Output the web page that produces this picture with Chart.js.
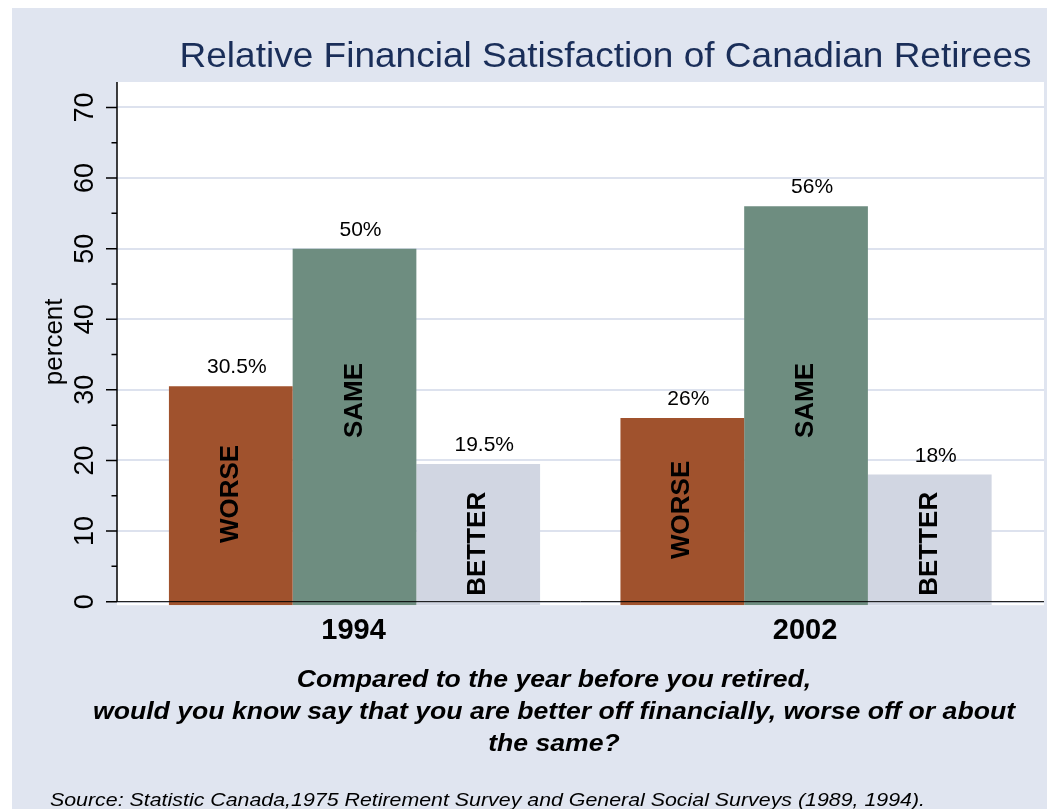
<!DOCTYPE html>
<html>
<head>
<meta charset="utf-8">
<script src="https://cdn.jsdelivr.net/npm/chart.js@4.4.1/dist/chart.umd.min.js"></script>
<style>
    html, body { margin: 0; padding: 0; background: #fff; }
    #wrap { width: 1047px; height: 809px; }
</style>
</head>
<body>
<div id="wrap"><canvas id="chart" width="1047" height="809"></canvas></div>
<script>
// ------------------------------------------------------------------ data
const years = ['1994', '2002'];
const answers = ['WORSE', 'SAME', 'BETTER'];
const worse = [30.5, 26];
const same = [50, 56];
const better = [19.5, 18];
const yTicks = [0, 10, 20, 30, 40, 50, 60, 70];
const yMinorTicks = [5, 15, 25, 35, 45, 55, 65];

// height (percent units) where each answer's name sits inside its bar; null = half the bar
const nameAt = [null, 28.5, 8.2];

const titleText = 'Relative Financial Satisfaction of Canadian Retirees';
const noteLines = [
    'Compared to the year before you retired,',
    'would you know say that you are better off financially, worse off or about',
    'the same?'
];
const sourceText = 'Source: Statistic Canada,1975 Retirement Survey and General Social Surveys (1989, 1994).';

// ---------------------------------------------------------------- styles
const FONT = '"Liberation Sans", Arial, Helvetica, sans-serif';
const BG = '#e0e5f0';
const GRID = '#dde2ee';
const BAR_COLORS = ['#a0522d', '#6e8d80', '#d1d6e2'];

const toPoints = vals => vals.map((v, i) => ({ x: i, y: v }));

// page + plot backgrounds
const panel = {
    id: 'panel',
    beforeDraw(chart) {
        const { ctx, chartArea: a, width, height } = chart;
        ctx.save();
        ctx.fillStyle = '#ffffff';
        ctx.fillRect(0, 0, width, height);
        ctx.fillStyle = BG;
        ctx.fillRect(12, 8, width - 12, height - 8);
        ctx.fillStyle = '#ffffff';
        ctx.fillRect(a.left, a.top, a.right - a.left, a.bottom - a.top);
        ctx.restore();
    }
};

function rotatedText(ctx, text, x, y, font, align, baseline) {
    ctx.save();
    ctx.translate(x, y);
    ctx.rotate(-Math.PI / 2);
    ctx.font = font;
    ctx.textAlign = align;
    ctx.textBaseline = baseline;
    ctx.fillText(text, 0, 0);
    ctx.restore();
}

// text stretched horizontally so it spans a given width
function wideText(ctx, text, x, y, stretch) {
    ctx.save();
    ctx.translate(x, y);
    ctx.scale(stretch, 1);
    ctx.fillText(text, 0, 0);
    ctx.restore();
}

// axes, labels, titles and notes
const decorations = {
    id: 'decorations',
    afterDatasetsDraw(chart) {
        const { ctx, chartArea: a, scales: { x, y } } = chart;
        const series = [worse, same, better];
        ctx.save();
        ctx.fillStyle = '#000';

        // bar names and value labels
        series.forEach((vals, d) => {
            const meta = chart.getDatasetMeta(d);
            meta.data.forEach((bar, i) => {
                const v = vals[i];
                const at = nameAt[d] === null ? v / 2 : nameAt[d];
                rotatedText(ctx, answers[d], bar.x, y.getPixelForValue(at),
                    'bold 26px ' + FONT, 'center', 'middle');
                ctx.font = '21px ' + FONT;
                ctx.textAlign = 'center';
                ctx.textBaseline = 'alphabetic';
                ctx.fillText(v + '%', bar.x + 6, y.getPixelForValue(v) - 13);
            });
        });

        // zero line across the plot
        const y0 = y.getPixelForValue(0);
        ctx.strokeStyle = '#000';
        ctx.lineWidth = 1;
        ctx.beginPath();
        ctx.moveTo(a.left, y0);
        ctx.lineTo(a.right, y0);
        ctx.stroke();

        // y axis line and ticks
        ctx.lineWidth = 1.5;
        ctx.beginPath();
        ctx.moveTo(a.left, a.top);
        ctx.lineTo(a.left, y0);
        yTicks.forEach(v => {
            const py = y.getPixelForValue(v);
            ctx.moveTo(a.left - 11, py);
            ctx.lineTo(a.left, py);
        });
        yMinorTicks.forEach(v => {
            const py = y.getPixelForValue(v);
            ctx.moveTo(a.left - 5.5, py);
            ctx.lineTo(a.left, py);
        });
        ctx.stroke();

        yTicks.forEach(v => {
            rotatedText(ctx, String(v), a.left - 24, y.getPixelForValue(v),
                '27px ' + FONT, 'center', 'alphabetic');
        });
        rotatedText(ctx, 'percent', 62, (a.top + y0) / 2, '26px ' + FONT, 'center', 'alphabetic');

        // year labels
        ctx.font = 'bold 29px ' + FONT;
        ctx.textAlign = 'center';
        ctx.textBaseline = 'alphabetic';
        years.forEach((yr, i) => {
            ctx.fillText(yr, x.getPixelForValue(i) - 1, 639);
        });

        // title
        ctx.fillStyle = '#1a2e59';
        ctx.font = '35px ' + FONT;
        wideText(ctx, titleText, 605.5, 67, 852 / ctx.measureText(titleText).width);

        // question and source notes
        ctx.fillStyle = '#000';
        ctx.font = 'italic bold 24px ' + FONT;
        const noteStretch = 922 / ctx.measureText(noteLines[1]).width;
        noteLines.forEach((line, i) => {
            wideText(ctx, line, 554, 687 + i * 32, noteStretch);
        });
        ctx.font = 'italic 19px ' + FONT;
        ctx.textAlign = 'left';
        wideText(ctx, sourceText, 50, 806, 875 / ctx.measureText(sourceText).width);
        ctx.restore();
    }
};

const chart = new Chart(document.getElementById('chart'), {
    type: 'bar',
    data: {
        datasets: answers.map((name, d) => ({
            label: name,
            data: toPoints([worse, same, better][d]),
            backgroundColor: BAR_COLORS[d],
            borderWidth: 0
        }))
    },
    options: {
        responsive: false,
        animation: false,
        events: [],
        layout: { padding: { left: 12, top: 82, right: 3, bottom: 0 } },
        datasets: { bar: { base: -0.5, categoryPercentage: 0.822, barPercentage: 1 } },
        plugins: { legend: { display: false }, tooltip: { enabled: false } },
        scales: {
            x: {
                type: 'linear',
                offset: false,
                min: -0.526,
                max: 1.527,
                afterBuildTicks: s => { s.ticks = years.map((_, i) => ({ value: i })); },
                afterFit: s => { s.height = 809 - 605.2; },
                grid: { display: false, offset: false },
                border: { display: false },
                ticks: { display: false }
            },
            y: {
                min: -0.5,
                max: 73.6,
                afterBuildTicks: s => { s.ticks = yTicks.map(v => ({ value: v })); },
                afterFit: s => { s.width = 105; },
                grid: { color: GRID, lineWidth: 2, drawTicks: false },
                border: { display: false },
                ticks: { display: false }
            }
        }
    },
    plugins: [panel, decorations]
});
</script>
</body>
</html>
